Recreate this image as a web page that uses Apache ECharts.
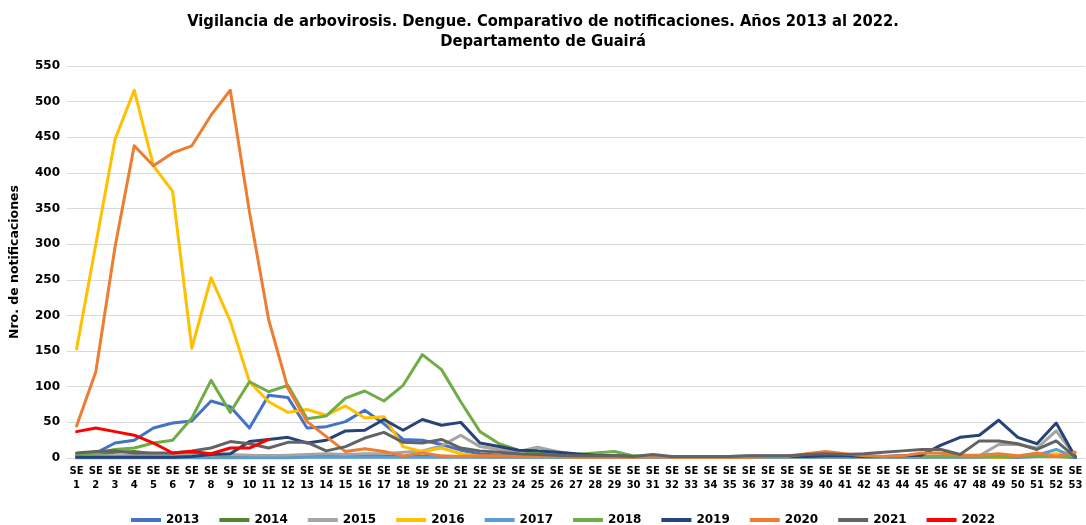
<!DOCTYPE html>
<html>
<head>
<meta charset="utf-8">
<script src="https://cdn.jsdelivr.net/npm/echarts@6/dist/echarts.min.js"></script>
<style>
html,body{margin:0;padding:0;background:#fff;}
#chart{width:1086px;height:525px;}
</style>
</head>
<body>
<div id="chart"></div>
<script>
const weekLabels = ['SE\n1','SE\n2','SE\n3','SE\n4','SE\n5','SE\n6','SE\n7','SE\n8','SE\n9','SE\n10',
'SE\n11','SE\n12','SE\n13','SE\n14','SE\n15','SE\n16','SE\n17','SE\n18','SE\n19','SE\n20',
'SE\n21','SE\n22','SE\n23','SE\n24','SE\n25','SE\n26','SE\n27','SE\n28','SE\n29','SE\n30',
'SE\n31','SE\n32','SE\n33','SE\n34','SE\n35','SE\n36','SE\n37','SE\n38','SE\n39','SE\n40',
'SE\n41','SE\n42','SE\n43','SE\n44','SE\n45','SE\n46','SE\n47','SE\n48','SE\n49','SE\n50',
'SE\n51','SE\n52','SE\n53'];

const yTicks = [0,50,100,150,200,250,300,350,400,450,500,550];

const y2013 = [4,7,21,25,42,49,52,80,72,42,88,85,42,44,51,67,48,26,25,19,11,6,4,3,3,2,2,2,2,1,2,1,1,1,1,1,1,1,1,1,1,1,1,1,1,1,1,1,1,1,2,3,1];
const y2014 = [3,5,8,9,6,4,5,4,3,3,3,2,2,2,2,2,2,2,2,2,2,2,1,1,1,1,1,1,1,1,1,1,1,1,1,1,1,1,1,1,1,1,1,1,1,1,1,1,1,2,2,2,1];
const y2015 = [2,3,3,4,4,3,4,4,5,4,3,4,5,6,5,6,6,8,10,17,32,16,12,9,15,9,5,4,3,2,2,2,2,2,2,3,3,3,3,3,3,3,2,2,2,3,3,3,19,19,14,38,2];
const y2016 = [153,300,447,516,410,374,154,253,192,107,79,64,68,60,73,56,58,16,9,14,6,2,1,1,1,1,1,1,1,1,1,1,1,1,1,1,1,1,1,1,1,1,1,1,1,1,1,1,1,2,3,6,2];
const y2017 = [0,0,0,0,0,0,0,0,0,0,0,0,1,1,1,1,1,1,1,1,1,1,1,1,1,1,1,1,1,1,1,1,1,1,1,1,1,1,1,1,1,1,1,1,1,1,1,1,2,2,4,12,1];
const y2018 = [5,7,12,14,21,25,56,109,64,107,93,102,55,59,84,94,80,102,145,124,79,37,20,11,7,6,5,7,9,3,2,2,2,2,2,2,2,2,2,2,2,2,2,2,2,2,2,2,2,2,2,2,2];
const y2019 = [1,1,1,1,1,1,2,5,6,23,26,29,21,25,38,39,54,39,54,46,50,21,16,11,10,8,6,4,3,2,2,2,2,2,2,2,2,2,2,3,3,2,2,3,4,18,29,32,53,29,20,49,1];
const y2020 = [45,121,296,438,410,428,438,481,516,345,194,98,51,30,9,13,9,3,7,3,2,3,3,2,2,2,1,1,1,1,2,1,1,1,1,1,2,2,6,9,6,3,2,3,7,7,4,4,6,3,7,2,8];
const y2021 = [7,9,10,7,7,7,10,14,23,20,14,22,22,10,16,28,36,22,21,26,14,10,8,6,5,4,3,3,3,2,5,2,2,2,2,3,3,3,5,6,5,6,8,10,12,12,5,24,24,20,12,24,1];
const y2022 = [37,42,37,32,21,7,9,6,14,14,26];

const seriesNames = ['2013','2014','2015','2016','2017','2018','2019','2020','2021','2022'];
const seriesColors = ['#4472C4','#548235','#A5A5A5','#FFC000','#5B9BD5','#70AD47','#264478','#ED7D31','#636363','#FF0000'];
const seriesData = [y2013,y2014,y2015,y2016,y2017,y2018,y2019,y2020,y2021,y2022];

const FONT = "'DejaVu Sans', Verdana, sans-serif";

const chart = echarts.init(document.getElementById('chart'), null, {renderer:'canvas'});
chart.setOption({
  animation: false,
  backgroundColor: '#ffffff',
  title: {
    text: 'Vigilancia de arbovirosis. Dengue. Comparativo de notificaciones. Años 2013 al 2022.\nDepartamento de Guairá',
    left: 'center',
    top: 7,
    textStyle: {
      fontFamily: "'DejaVu Sans Condensed', 'DejaVu Sans', sans-serif",
      fontWeight: 'bold',
      fontSize: 16.4,
      lineHeight: 20,
      color: '#000'
    }
  },
  legend: {
    data: seriesNames,
    left: 126,
    top: 509,
    icon: 'rect',
    itemWidth: 30,
    itemHeight: 4,
    itemGap: 20,
    textStyle: {fontFamily: FONT, fontWeight: 'bold', fontSize: 12, color: '#000'}
  },
  grid: {left: 67, right: 1, top: 66, bottom: 67, containLabel: false},
  xAxis: {
    type: 'category',
    data: weekLabels,
    boundaryGap: true,
    axisLine: {show: true, lineStyle: {color: '#D9D9D9', width: 1}},
    axisTick: {show: false},
    axisLabel: {
      interval: 0,
      margin: 6,
      fontFamily: FONT,
      fontWeight: 'bold',
      fontSize: 10,
      lineHeight: 14,
      color: '#000'
    }
  },
  yAxis: {
    type: 'value',
    min: yTicks[0],
    max: yTicks[yTicks.length-1],
    interval: 50,
    name: 'Nro. de notificaciones',
    nameLocation: 'middle',
    nameRotate: 90,
    nameGap: 46,
    nameTextStyle: {fontFamily: FONT, fontWeight: 'bold', fontSize: 12.5, color: '#000'},
    axisLine: {show: false},
    axisTick: {show: false},
    splitLine: {show: true, lineStyle: {color: '#D9D9D9', width: 1}},
    axisLabel: {fontFamily: FONT, fontWeight: 'bold', fontSize: 12, color: '#000', margin: 7}
  },
  series: seriesNames.map((n, i) => ({
    name: n,
    type: 'line',
    data: seriesData[i],
    showSymbol: false,
    symbol: 'none',
    lineStyle: {width: 3, color: seriesColors[i], join: 'round', cap: 'round'},
    itemStyle: {color: seriesColors[i]},
    emphasis: {disabled: true}
  }))
});
</script>
</body>
</html>
